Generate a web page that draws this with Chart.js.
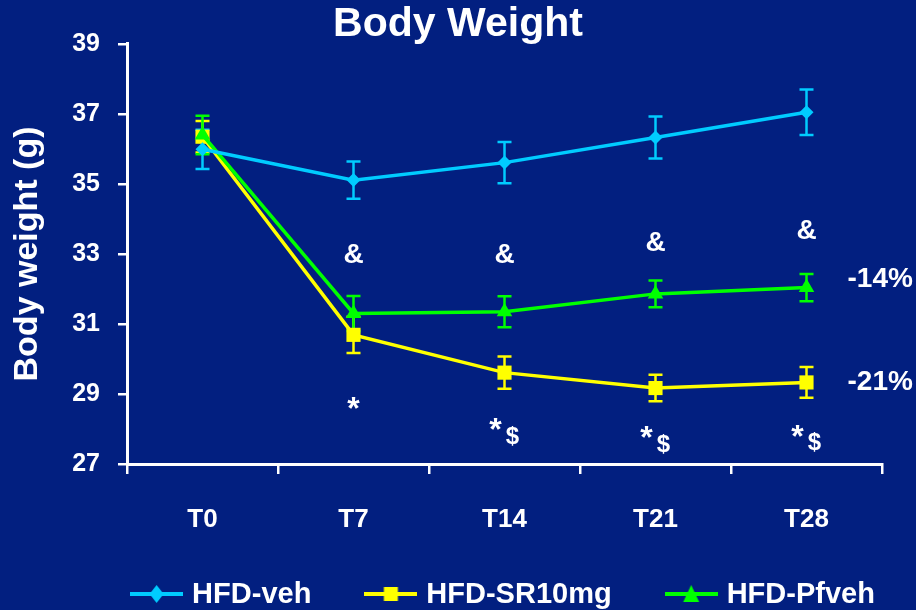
<!DOCTYPE html>
<html>
<head>
<meta charset="utf-8">
<title>Body Weight</title>
<script src="https://cdn.jsdelivr.net/npm/chart.js@4.4.1/dist/chart.umd.min.js"></script>
<style>
  html,body{margin:0;padding:0;background:#021f80;}
  #wrap{width:916px;height:610px;position:relative;}
</style>
</head>
<body>
<div id="wrap"><canvas id="bw"></canvas></div>
<script>
/* ── data ── */
const timepoints=['T0','T7','T14','T21','T28'];
const vehMean=[35.99,35.11,35.61,36.33,37.05];
const vehErr=[0.56,0.53,0.59,0.6,0.65];
const srMean=[36.35,30.69,29.61,29.17,29.33];
const srErr=[0.45,0.52,0.46,0.38,0.44];
const pfMean=[36.4,31.3,31.35,31.86,32.04];
const pfErr=[0.55,0.5,0.44,0.38,0.39];
const seriesNames=['HFD-veh','HFD-SR10mg','HFD-Pfveh'];
const yTicks=[27,29,31,33,35,37,39];

/* significance marks, y in grams */
const ampY=[null,32.97,32.97,33.31,33.64];
const starY=[null,28.77,28.17,27.94,27.97];
const dollarY=[null,null,27.77,27.54,27.6];
const pctLabels=['-14%','-21%'];
const pctY=[32.29,29.34];

const BG='#021f80';
const BLUE='#00ccff',YELLOW='#ffff00',GREEN='#00ff00';
const FONT='"Liberation Sans", Arial, sans-serif';

/* legend icons: line with marker */
function legendIcon(color,shape){
  const c=document.createElement('canvas');
  c.width=53;c.height=22;
  const g=c.getContext('2d');
  g.strokeStyle=color;g.lineWidth=4;
  g.beginPath();g.moveTo(0,11);g.lineTo(53,11);g.stroke();
  g.fillStyle=color;g.beginPath();
  if(shape==='diamond'){g.moveTo(26.5,2);g.lineTo(33.5,11);g.lineTo(26.5,20);g.lineTo(19.5,11);}
  else if(shape==='square'){g.rect(19.5,4,14,14);}
  else{g.moveTo(26.5,2);g.lineTo(34.5,19);g.lineTo(18.5,19);}
  g.closePath();g.fill();
  return c;
}
const icons=[legendIcon(BLUE,'diamond'),legendIcon(YELLOW,'square'),legendIcon(GREEN,'triangle')];

const errs=[vehErr,srErr,pfErr];

/* error bars */
const errorBars={
  id:'errorBars',
  beforeDatasetsDraw(chart){
    const {ctx,scales:{y}}=chart;
    chart.data.datasets.forEach((ds,i)=>{
      const meta=chart.getDatasetMeta(i);
      ctx.save();
      ctx.strokeStyle=ds.borderColor;ctx.lineWidth=2.5;
      meta.data.forEach((pt,j)=>{
        const e=errs[i][j];
        const top=y.getPixelForValue(ds.data[j]+e);
        const bot=y.getPixelForValue(ds.data[j]-e);
        ctx.beginPath();
        ctx.moveTo(pt.x,top);ctx.lineTo(pt.x,bot);
        ctx.moveTo(pt.x-7,top);ctx.lineTo(pt.x+7,top);
        ctx.moveTo(pt.x-7,bot);ctx.lineTo(pt.x+7,bot);
        ctx.stroke();
      });
      ctx.restore();
    });
  }
};

/* & * $ and percentage labels */
const marks={
  id:'marks',
  afterDatasetsDraw(chart){
    const {ctx,scales:{x,y}}=chart;
    ctx.save();
    ctx.fillStyle='#fff';
    ctx.textAlign='center';ctx.textBaseline='middle';
    timepoints.forEach((t,i)=>{
      const px=x.getPixelForValue(i);
      if(ampY[i]!=null){
        ctx.font='bold 28px '+FONT;
        ctx.fillText('&',px,y.getPixelForValue(ampY[i]));
      }
      const hasDollar=dollarY[i]!=null;
      if(starY[i]!=null){
        ctx.font='bold 32px '+FONT;
        ctx.fillText('*',px+(hasDollar?-9:0),y.getPixelForValue(starY[i])+8);
      }
      if(hasDollar){
        ctx.font='bold 24px '+FONT;
        ctx.fillText('$',px+8,y.getPixelForValue(dollarY[i]));
      }
    });
    ctx.font='bold 28px '+FONT;
    ctx.textAlign='left';
    const last=x.getPixelForValue(timepoints.length-1);
    pctLabels.forEach((s,k)=>ctx.fillText(s,last+41,y.getPixelForValue(pctY[k])));
    ctx.restore();
  }
};

/* legend row under the axis: line+marker icon, then name */
const legendRow={
  id:'legendRow',
  afterDraw(chart){
    const {ctx,chartArea}=chart;
    ctx.save();
    ctx.font='bold 29px '+FONT;
    ctx.fillStyle='#fff';ctx.textBaseline='middle';ctx.textAlign='left';
    const names=chart.data.datasets.map(d=>d.label);
    const widths=names.map(n=>ctx.measureText(n).width);
    const gapIcon=9,gapItem=53;
    const total=widths.reduce((a,w)=>a+icons[0].width+gapIcon+w,0)+gapItem*(names.length-1);
    let cx=(chartArea.left+chartArea.right)/2-total/2-2;
    const cy=594;
    names.forEach((n,i)=>{
      ctx.drawImage(icons[i],cx,cy-icons[i].height/2);
      cx+=icons[i].width+gapIcon;
      ctx.fillText(n,cx,cy+1);
      cx+=widths[i]+gapItem;
    });
    ctx.restore();
  }
};

const background={
  id:'background',
  beforeDraw(chart){
    const {ctx,width,height}=chart;
    ctx.save();ctx.fillStyle=BG;ctx.fillRect(0,0,width,height);ctx.restore();
  }
};

function series(label,data,color,style,radius,order){
  return {label,data,borderColor:color,backgroundColor:color,borderWidth:3.5,
    pointStyle:style,pointRadius:radius,pointHoverRadius:radius,pointBorderWidth:0,
    pointBackgroundColor:color,tension:0,order};
}

new Chart(document.getElementById('bw'),{
  type:'line',
  data:{
    labels:timepoints,
    datasets:[
      series(seriesNames[0],vehMean,BLUE,'rectRot',7,0),
      series(seriesNames[1],srMean,YELLOW,'rect',10,2),
      series(seriesNames[2],pfMean,GREEN,'triangle',9,1)
    ]
  },
  options:{
    responsive:true,maintainAspectRatio:false,animation:false,
    layout:{padding:{left:0,right:0,top:0,bottom:74}},
    plugins:{
      title:{display:true,text:'Body Weight',color:'#fff',
        font:{family:FONT,size:41,weight:'bold',lineHeight:0.95},padding:{top:5,bottom:0}},
      legend:{display:false},
      tooltip:{enabled:false}
    },
    scales:{
      x:{
        offset:true,
        grid:{offset:true,drawOnChartArea:false,color:'#fff',lineWidth:2.5,tickLength:10},
        border:{color:'#fff',width:3},
        ticks:{color:'#fff',font:{family:FONT,size:26,weight:'bold'},padding:30},
        afterFit:s=>{s.height=72;}
      },
      y:{
        min:27,max:39,
        afterBuildTicks:s=>{s.ticks=yTicks.map(v=>({value:v}));},
        grid:{drawOnChartArea:false,color:'#fff',lineWidth:2.5,tickLength:9},
        border:{color:'#fff',width:3},
        ticks:{color:'#fff',font:{family:FONT,size:25,weight:'bold'},padding:18},
        title:{display:true,text:'Body weight (g)',color:'#fff',
          font:{family:FONT,size:34,weight:'bold',lineHeight:1.1},padding:{top:9,bottom:0}},
        afterFit:s=>{s.width=127;}
      },
      /* empty strip on the right that holds the percentage labels */
      side:{
        position:'right',min:0,max:1,
        grid:{display:false},border:{display:false},ticks:{display:false},
        afterFit:s=>{s.width=34;}
      }
    }
  },
  plugins:[background,errorBars,marks,legendRow]
});
</script>
</body>
</html>
